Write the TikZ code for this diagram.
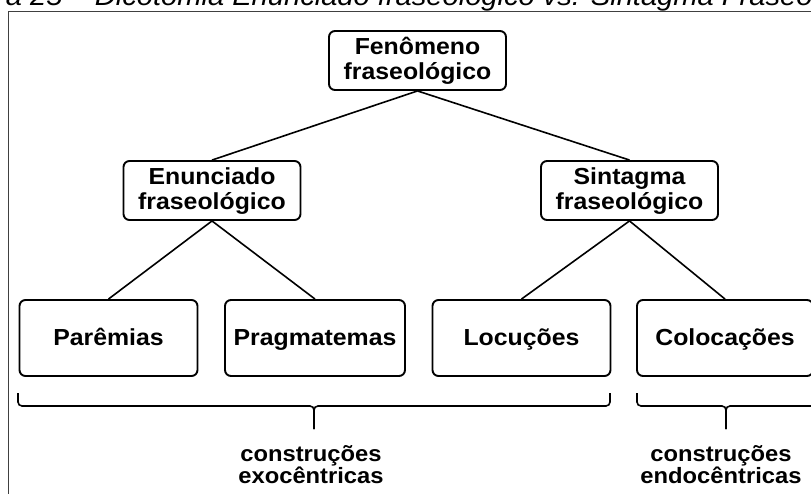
\documentclass[tikz,border=0pt]{standalone}
\usepackage{fontspec}
\setmainfont[FakeStretch=1.07]{Liberation Sans}
\newcommand{\toprule}{\rule{0pt}{18pt}}
\newcommand{\botrule}{\rule[-5pt]{0pt}{5pt}}
\begin{document}
\begin{tikzpicture}[x=1pt,y=-1pt,
  box/.style={draw=black, line width=1.9pt, rounded corners=6pt, align=center, inner sep=0pt, font=\bfseries\fontsize{23.2}{25.5}\selectfont},
  midbox/.style={box, minimum width=177pt, minimum height=59pt},
  lowbox/.style={box, minimum width=178pt, minimum height=76pt, text height=18pt, text depth=4pt},
  link/.style={line width=1.6pt},
  bracepath/.style={line width=1.6pt, rounded corners=4pt},
  lbl/.style={align=center, inner sep=0pt, font=\bfseries\fontsize{22.2}{22}\selectfont},
  frame/.style={line width=0.9pt, black!75}]
\useasboundingbox (0,0) rectangle (811,494);
\begin{scope}
\clip (0,0) rectangle (811,494);
\node[anchor=base west, inner sep=0pt, font=\itshape\fontsize{27.2}{28}\selectfont] (title) at (-4,6) {ra 25 – Dicotomia Enunciado fraseológico vs. Sintagma Fraseológico};
\coordinate (fbl) at (8.5,510);
\coordinate (ftl) at (8.5,11);
\coordinate (ftr) at (830,11);
\draw[frame] (fbl) -- (ftl) -- (ftr);

\node[midbox] (top) at (417.5,60.5) {\toprule Fenômeno\\fraseológico\botrule};
\node[midbox] (enun) at (212,190.5) {\toprule Enunciado\\fraseológico\botrule};
\node[midbox] (sint) at (629.5,190.5) {\toprule Sintagma\\fraseológico\botrule};
\node[lowbox] (par) at (108.5,338) {Parêmias};
\node[lowbox, minimum width=180pt] (prag) at (315,338) {Pragmatemas};
\node[lowbox] (loc) at (521.5,338) {Locuções};
\node[lowbox, minimum width=176pt] (col) at (725,338) {Colocações};

\draw[link] (top.south) -- (enun.north);
\draw[link] (top.south) -- (sint.north);
\draw[link] (enun.south) -- (par.north);
\draw[link] (enun.south) -- (prag.north);
\draw[link] (sint.south) -- (loc.north);
\draw[link] (sint.south) -- (col.north);

% left brace
\coordinate (la) at (18,393);
\coordinate (lam) at (18,406);
\coordinate (lb) at (610,393);
\coordinate (lbm) at (610,406);
\coordinate (lm) at (314,406);
\coordinate (lt) at (314,429);
\draw[bracepath] (la) -- (lam) -- (lm) -- (lt);
\draw[bracepath] (lb) -- (lbm) -- (lm) -- (lt);
% right brace
\coordinate (ra) at (637,393);
\coordinate (ram) at (637,406);
\coordinate (rb) at (815,393);
\coordinate (rbm) at (815,406);
\coordinate (rm) at (726,406);
\coordinate (rt) at (726,429);
\draw[bracepath] (ra) -- (ram) -- (rm) -- (rt);
\draw[bracepath] (rb) -- (rbm) -- (rm) -- (rt);

\node[lbl, anchor=north] (exo) at (311,445.5) {construções\\exocêntricas};
\node[lbl, anchor=north] (endo) at (721,445.5) {construções\\endocêntricas};
\end{scope}
\end{tikzpicture}
\end{document}
